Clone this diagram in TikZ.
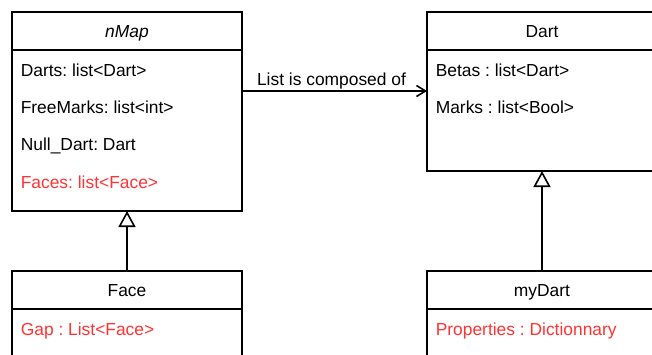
\documentclass[tikz,border=0pt]{standalone}
\usepackage{fontspec}
\setmainfont{Liberation Sans}
\usetikzlibrary{arrows.meta,calc,positioning}
\definecolor{fieldred}{HTML}{FF3333}

\begin{document}
\begin{tikzpicture}[x=1pt,y=-1pt,line width=1.6pt,line join=miter,
  >={Straight Barb[length=9pt,width=11pt]},
  font=\fontsize{17.4}{20}\selectfont\frenchspacing,
  head/.style={draw,rectangle,minimum width=230pt,minimum height=38pt,inner sep=0pt,outer sep=0pt,text height=12.5pt,text depth=0.5pt},
  body/.style={draw,rectangle,minimum width=230pt,inner sep=0pt,outer sep=0pt},
  field/.style={anchor=base west,inner sep=0pt},
  inherit/.style={-{Triangle[open,length=16pt,width=17pt]}}]
%%
\clip (0,0) rectangle (652,354);
\node (nMap) at (127,31) [head] {\textit{nMap}};
  \node (nMapBody) [body,below=0pt of nMap,minimum height=161pt] {};
  \node (Dart) at (542,31) [head] {Dart};
  \node (DartBody) [body,below=0pt of Dart,minimum height=121pt] {};
  \node (Face) at (127,290) [head] {Face};
  \node (FaceBody) [body,below=0pt of Face,minimum height=80pt] {};
  \node (myDart) at (542,290) [head] {myDart};
  \node (myDartBody) [body,below=0pt of myDart,minimum height=80pt] {};
%
\node (dartsField) at (20,76) [field] {Darts: list<Dart>};
  \node (freeField) at (20,113) [field] {FreeMarks: list<int>};
  \node (nullField) at (20,150.5) [field] {Null\_Dart: Dart};
  \node (facesField) at (20,188) [field,text=fieldred] {Faces: list<Face>};
  \node (betasField) at (435,76) [field] {Betas : list<Dart>};
  \node (marksField) at (435,113) [field] {Marks : list<Bool>};
  \node (gapField) at (20,335) [field,text=fieldred] {Gap : List<Face>};
  \node (propField) at (435,335) [field,text=fieldred] {Properties : Dictionnary};
%
\draw [->] ($(nMapBody.north east)+(0,41)$) -- ($(DartBody.north west)+(0,41)$)
    node (linkLabel) [midway,anchor=base,yshift=6pt,xshift=-3pt] {List is composed of};
  \draw [inherit] (Face.north) -- (nMapBody.south);
  \draw [inherit] (myDart.north) -- (DartBody.south);
%
\end{tikzpicture}
\end{document}
